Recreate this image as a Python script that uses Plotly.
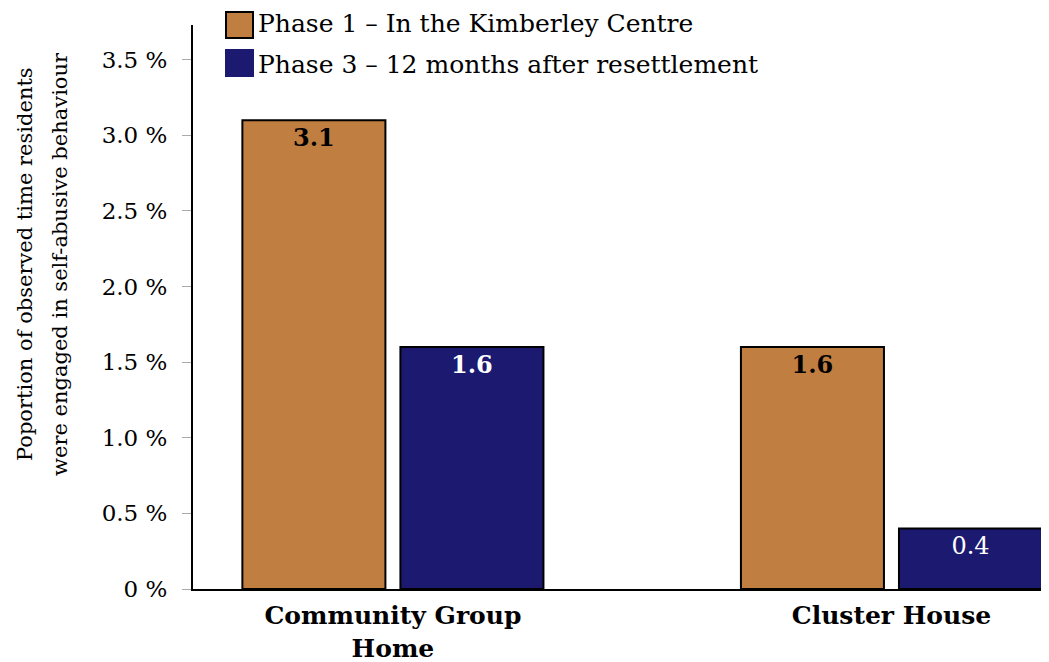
import plotly.graph_objects as go

categories = ["Community Group<br>Home", "Cluster House"]
series_names = ["Phase 1 – In the Kimberley Centre", "Phase 3 – 12 months after resettlement"]
phase1 = [3.1, 1.6]
phase3 = [1.6, 0.4]
y_tick_vals = [0, 0.5, 1.0, 1.5, 2.0, 2.5, 3.0, 3.5]
y_tick_text = ["0 %", "0.5 %", "1.0 %", "1.5 %", "2.0 %", "2.5 %", "3.0 %", "3.5 %"]
y_title_lines = ["Poportion of observed time residents", "were engaged in self-abusive behaviour"]

c1 = "#C07E40"
c3 = "#1B1A70"
FONT = "DejaVu Serif"

# page body has an 8px margin: figure is drawn from (8, 8)
OFF = 8
W, H = 1049 - OFF, 662 - OFF
L, T, B = 193 - OFF, 25 - OFF, 662 - 589
PW, PH = W - L, H - T - B

def px_x(x):  # reference pixel x -> paper
    return (x - OFF - L) / PW

def px_y(y):  # reference pixel y -> paper
    return (589 - y) / PH

def label(v, bold=True):
    s = f"{v:.1f}"
    return f"<b>{s}</b>" if bold else s

fig = go.Figure()
fig.add_trace(go.Bar(
    x=categories, y=phase1, name=series_names[0],
    marker=dict(color=c1, line=dict(color="black", width=2)),
    text=[label(v) for v in phase1], textposition="inside", insidetextanchor="end",
    textangle=0, textfont=dict(family=FONT, size=24, color="black"),
    showlegend=False,
))
fig.add_trace(go.Bar(
    x=categories, y=phase3, name=series_names[1],
    marker=dict(color=c3, line=dict(color="black", width=2)),
    text=[label(phase3[0]), label(phase3[1], bold=False)], textposition="inside", insidetextanchor="end",
    textangle=0, textfont=dict(family=FONT, size=24, color="white"),
    showlegend=False,
))

fig.update_layout(
    width=W, height=H,
    margin=dict(l=L, r=0, t=T, b=B),
    paper_bgcolor="white", plot_bgcolor="white",
    barmode="group", bargap=0.366, bargroupgap=0.095,
    font=dict(family=FONT, color="black"),
    xaxis=dict(
        type="category", range=[-0.401, 1.316],
        showline=True, linecolor="black", linewidth=2,
        ticks="", showgrid=False, automargin=False, ticklabelstandoff=3,
        tickfont=dict(family=FONT, size=25, weight="bold"),
    ),
    yaxis=dict(
        range=[0, 3.73],
        tickvals=y_tick_vals, ticktext=y_tick_text,
        showline=True, linecolor="black", linewidth=2,
        ticks="outside", ticklen=9, tickcolor="#aaaaaa", tickwidth=1,
        showgrid=False, zeroline=False, automargin=False, ticklabelstandoff=10,
        tickfont=dict(family=FONT, size=23),
    ),
)

# y-axis title as rotated annotations (two lines)
for line, xc in zip(y_title_lines, [25, 60]):
    fig.add_annotation(
        text=line, textangle=-90, showarrow=False,
        xref="paper", yref="paper",
        x=px_x(xc), y=px_y(264),
        xanchor="center", yanchor="middle",
        font=dict(family=FONT, size=21),
    )

# manual legend
legend_items = [(series_names[0], c1, 12, 38, 23), (series_names[1], c3, 50, 76, 64)]
for name, col, top, bot, yc in legend_items:
    fig.add_shape(
        type="rect", xref="paper", yref="paper",
        x0=px_x(226), x1=px_x(253),
        y0=px_y(bot), y1=px_y(top),
        fillcolor=col, line=dict(color="black" if col == c1 else col, width=2),
    )
    fig.add_annotation(
        text=name, showarrow=False, xref="paper", yref="paper",
        x=px_x(256), y=px_y(yc),
        xanchor="left", yanchor="middle",
        font=dict(family=FONT, size=25),
    )

fig.write_html("out.html")
